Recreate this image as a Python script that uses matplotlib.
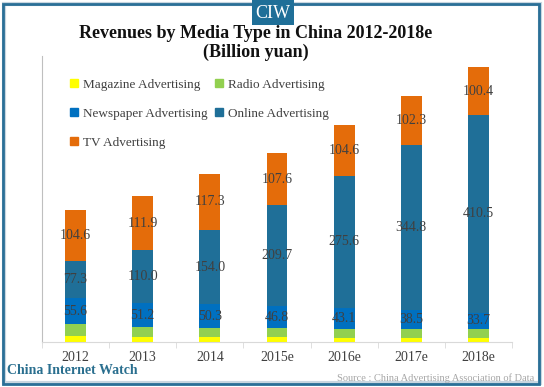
import matplotlib
matplotlib.use('Agg')
import matplotlib.pyplot as plt
from matplotlib.patches import Rectangle, Patch
import numpy as np

years = ['2012', '2013', '2014', '2015e', '2016e', '2017e', '2018e']
magazine = [12, 10, 9, 9, 8, 8, 7]
radio = [24, 20, 19, 19, 19, 19, 20]
newspaper = [55.6, 51.2, 50.3, 46.8, 43.1, 38.5, 33.7]
online = [77.3, 110.0, 154.0, 209.7, 275.6, 344.8, 410.5]
tv = [104.6, 111.9, 117.3, 107.6, 104.6, 102.3, 100.4]

names = ['Magazine Advertising', 'Radio Advertising', 'Newspaper Advertising',
         'Online Advertising', 'TV Advertising']
colors = ['#ffff00', '#92d050', '#0070c0', '#1f6f98', '#e46c0a']

W, H = 544, 387
fig = plt.figure(figsize=(W / 100, H / 100), dpi=100)
fig.patch.set_facecolor('white')

ax = fig.add_axes([42 / W, 1 - 341.7 / H, 470 / W, (341.7 - 56) / H])
x = np.arange(len(years))
series = [magazine, radio, newspaper, online, tv]
bottom = np.zeros(len(years))
bars = []
for vals, c, n in zip(series, colors, names):
    b = ax.bar(x, vals, 0.31, bottom=bottom, color=c, label=n, zorder=2)
    bars.append(b)
    bottom = bottom + np.array(vals)

serif = 'Liberation Serif'
for b in bars[2:]:
    ax.bar_label(b, fmt='%.1f', label_type='center', fontsize=10,
                 color='#404040', family=serif)

ax.set_xlim(-0.5, len(years) - 0.5)
ax.set_ylim(0, 595)
ax.set_yticks([])
for s in ['top', 'right']:
    ax.spines[s].set_visible(False)
ax.spines['left'].set_color('#bfbfbf')
ax.spines['bottom'].set_color('#d9d9d9')
ax.set_xticks(x)
ax.set_xticklabels(years, family=serif, fontsize=10, color='#404040')
ax.tick_params(axis='x', length=0, pad=7)
ax.set_xticks(np.arange(-0.5, len(years), 1), minor=True)
ax.tick_params(axis='x', which='minor', length=4, color='#d9d9d9')

# legend filled row by row like the original
order = [0, 2, 4, 1, 3]
handles = [Patch(color=colors[i]) for i in order]
labels = [names[i] for i in order]
ax.legend(handles, labels, ncol=2, loc='upper left', bbox_to_anchor=(0.035, 0.962),
          frameon=False, prop={'family': serif, 'size': 9.5}, labelcolor='#404040',
          handlelength=0.55, handleheight=0.55, handletextpad=0.4,
          labelspacing=1.3, columnspacing=0.6)

fig.text(0.47, 1 - 33 / H, 'Revenues by Media Type in China 2012-2018e',
         ha='center', va='center', family=serif, weight='bold', fontsize=13,
         color='#111111')
fig.text(0.47, 1 - 52 / H, '(Billion yuan)', ha='center', va='center',
         family=serif, weight='bold', fontsize=13, color='#111111')

# outer frame and CIW tag
fig.patches.append(Rectangle((4 / W, 4 / H), 536 / W, 379 / H, transform=fig.transFigure,
                             fill=False, edgecolor='#c8d6e0', lw=3, zorder=0))
fig.patches.append(Rectangle((3 / W, 3 / H), 536 / W, 380 / H, transform=fig.transFigure,
                             fill=False, edgecolor='#2a6f97', lw=2, zorder=1))
fig.patches.append(Rectangle((252 / W, 1 - 25 / H), 42 / W, 25 / H, transform=fig.transFigure,
                             facecolor='#1f6f98', edgecolor='none', zorder=2))
fig.text(273 / W, 1 - 13 / H, 'CIW', ha='center', va='center', family=serif,
         fontsize=13, color='white', zorder=3)

fig.text(7 / W, 1 - 371 / H, 'China Internet Watch', ha='left', va='center',
         family=serif, weight='bold', fontsize=10, color='#2a6f8f')
fig.text(534 / W, 1 - 378 / H, 'Source : China Advertising Association of Data',
         ha='right', va='center', family=serif, fontsize=7.5, color='#a6a6a6')

fig.savefig('out.png', dpi=100)
